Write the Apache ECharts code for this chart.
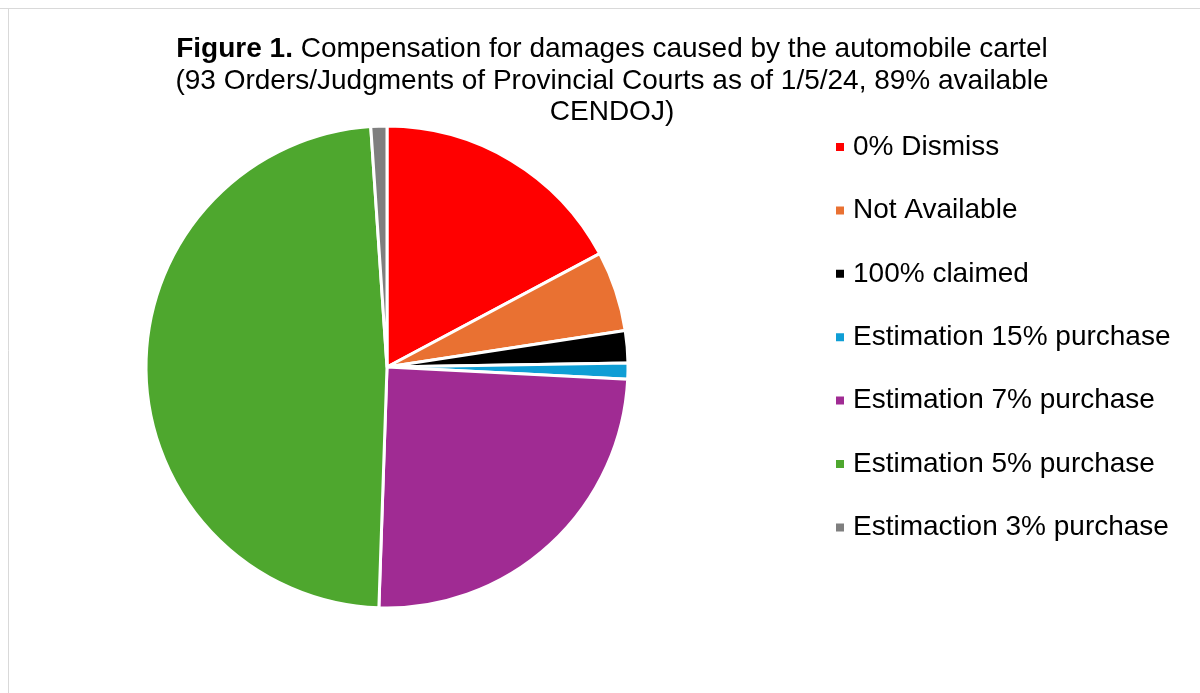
<!DOCTYPE html>
<html>
<head>
<meta charset="utf-8">
<script src="https://cdn.jsdelivr.net/npm/echarts@6/dist/echarts.min.js"></script>
<style>
html,body{margin:0;padding:0;background:#fff;}
#chart{width:1200px;height:693px;}
</style>
</head>
<body>
<div id="chart"></div>
<script>
const categories = ['0% Dismiss','Not Available','100% claimed','Estimation 15% purchase','Estimation 7% purchase','Estimation 5% purchase','Estimaction 3% purchase'];
const counts = [16, 5, 2, 1, 23, 45, 1];
const colors = ['#FF0000','#E97132','#000000','#0F9ED5','#A02B93','#4EA72E','#7F7F7F'];

const chart = echarts.init(document.getElementById('chart'));
chart.setOption({
  backgroundColor: '#fff',
  animation: false,
  title: {
    text: '{b|Figure 1.} Compensation for damages caused by the automobile cartel\n(93 Orders/Judgments of Provincial Courts as of 1/5/24, 89% available\nCENDOJ)',
    left: 607,
    top: 29,
    textAlign: 'center',
    textStyle: {
      fontFamily: 'Liberation Sans, Arial',
      fontSize: 28,
      fontWeight: 'normal',
      color: '#000',
      lineHeight: 31.5,
      align: 'center',
      rich: {
        b: {fontFamily: 'Liberation Sans, Arial', fontSize: 28, fontWeight: 'bold', color: '#000', lineHeight: 31.5}
      }
    }
  },
  legend: {
    orient: 'vertical',
    left: 829,
    top: 127,
    icon: 'rect',
    itemWidth: 10,
    itemHeight: 10,
    itemGap: 33.4,
    textStyle: {fontFamily: 'Liberation Sans, Arial', fontSize: 28, color: '#000', lineHeight: 30, padding: [0,0,0,3]},
    data: categories
  },
  graphic: [
    {type: 'line', shape: {x1: 0, y1: 8.5, x2: 1200, y2: 8.5}, style: {stroke: '#d9d9d9', lineWidth: 1}},
    {type: 'line', shape: {x1: 8.5, y1: 8, x2: 8.5, y2: 693}, style: {stroke: '#d9d9d9', lineWidth: 1}}
  ],
  series: [{
    type: 'pie',
    center: [387, 367],
    radius: [0, 241],
    startAngle: 90,
    clockwise: true,
    label: {show: false},
    labelLine: {show: false},
    itemStyle: {borderColor: '#fff', borderWidth: 3},
    emphasis: {disabled: true},
    data: categories.map((c, i) => ({name: c, value: counts[i], itemStyle: {color: colors[i]}}))
  }]
});
</script>
</body>
</html>
